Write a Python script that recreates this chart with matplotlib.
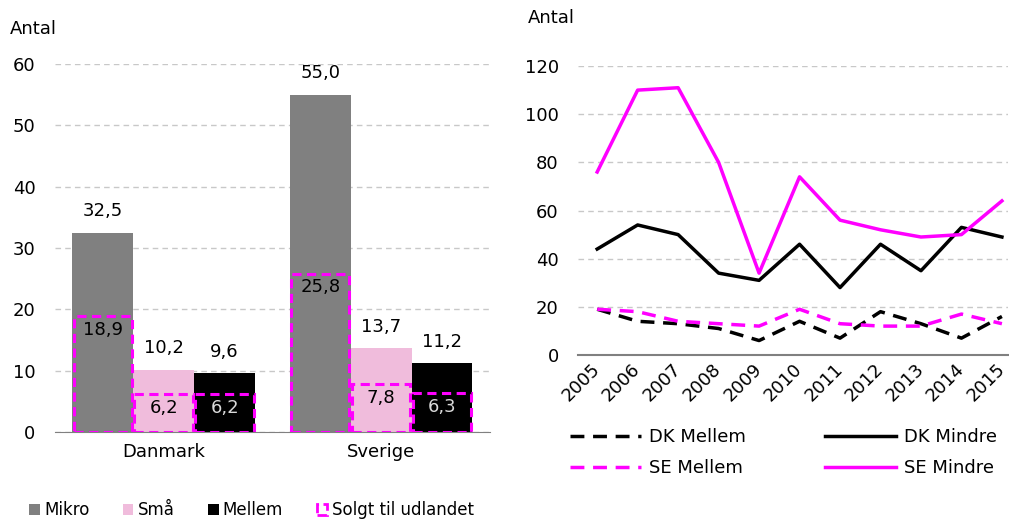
import matplotlib
matplotlib.use("Agg")
from matplotlib import pyplot as plt
from matplotlib.patches import Patch
from matplotlib.transforms import ScaledTranslation
import numpy as np

# left panel data
lande = ["Danmark", "Sverige"]
mikro = [32.5, 55.0]
smaa = [10.2, 13.7]
mellem = [9.6, 11.2]
solgt_mikro = [18.9, 25.8]
solgt_smaa = [6.2, 7.8]
solgt_mellem = [6.2, 6.3]

# right panel data
aar = [str(a) for a in range(2005, 2016)]
dk_mellem = [19, 14, 13, 11, 6, 14, 7, 18, 13, 7, 16]
dk_mindre = [44, 54, 50, 34, 31, 46, 28, 46, 35, 53, 49]
se_mellem = [19, 18, 14, 13, 12, 19, 13, 12, 12, 17, 13]
se_mindre = [76, 110, 111, 80, 34, 74, 56, 52, 49, 50, 64]

MAG = "#FF00FF"
GREY = "#808080"
PINK = "#F0BCDC"
fs = 13

def fmt(v):
    return ("%.1f" % v).replace(".", ",")

fig = plt.figure(figsize=(10.09, 5.2), dpi=100)

# ---------- left: bars ----------
ax1 = fig.add_axes([0.0545, 0.169, 0.431, 0.708])
x = np.arange(len(lande))
w = 0.28
series = [(mikro, solgt_mikro, GREY, "black"),
          (smaa, solgt_smaa, PINK, "black"),
          (mellem, solgt_mellem, "black", "#d9d9d9")]
for i, (vals, solgt, col, incol) in enumerate(series):
    xs = x + (i - 1) * w
    ax1.bar(xs, vals, w, color=col, zorder=2)
    ax1.bar(xs, solgt, w * 0.96, facecolor="none", edgecolor=MAG,
            linestyle=(0, (3, 1.8)), linewidth=2.2, zorder=3)
    for xi, v, s in zip(xs, vals, solgt):
        ax1.text(xi, v + 3.5, fmt(v), ha="center", va="center", fontsize=fs)
        ax1.text(xi, s - 2.2, fmt(s), ha="center", va="center", fontsize=fs, color=incol, zorder=4)

ax1.set_xlim(-0.5, 1.5)
ax1.set_ylim(0, 60)
ax1.set_yticks(range(0, 61, 10))
ax1.set_xticks(x)
ax1.set_xticklabels(lande, fontsize=fs)
ax1.tick_params(axis="y", labelsize=fs, length=0, pad=14)
ax1.tick_params(axis="x", length=0, pad=8)
ax1.yaxis.grid(True, linestyle=(0, (4, 3)), color="#c8c8c8", linewidth=1)
ax1.set_axisbelow(True)
for s in ["top", "right", "left"]:
    ax1.spines[s].set_visible(False)
ax1.spines["bottom"].set_color("#808080")
fig.text(0.010, 0.945, "Antal", fontsize=fs, va="center")

h1 = [Patch(facecolor=GREY), Patch(facecolor=PINK), Patch(facecolor="black"),
      Patch(facecolor="none", edgecolor=MAG, linestyle="--", linewidth=2)]
fig.legend(h1, ["Mikro", "Små", "Mellem", "Solgt til udlandet"], loc="center",
           bbox_to_anchor=(0.249, 0.019), ncol=4, frameon=False, fontsize=12,
           handlelength=0.65, handleheight=0.65, handletextpad=0.25, columnspacing=2.0)

# ---------- right: lines ----------
ax2 = fig.add_axes([0.573, 0.3173, 0.426, 0.5557])
xi = np.arange(len(aar))
ax2.plot(xi, dk_mellem, color="black", linestyle=(0, (4, 2.5)), linewidth=2.5, label="DK Mellem")
ax2.plot(xi, se_mellem, color=MAG, linestyle=(0, (4, 2.5)), linewidth=2.5, label="SE Mellem")
ax2.plot(xi, dk_mindre, color="black", linewidth=2.5, label="DK Mindre")
ax2.plot(xi, se_mindre, color=MAG, linewidth=2.5, label="SE Mindre")
ax2.set_xlim(-0.47, 10.15)
ax2.set_ylim(0, 120)
ax2.set_yticks(range(0, 121, 20))
ax2.set_xticks(xi)
ax2.set_xticklabels(aar, rotation=45, ha="right", va="center", rotation_mode="anchor", fontsize=fs)
off = ScaledTranslation(-3 / 72, 0, fig.dpi_scale_trans)
for lab in ax2.get_xticklabels():
    lab.set_transform(lab.get_transform() + off)
ax2.tick_params(axis="y", labelsize=fs, length=0, pad=14)
ax2.tick_params(axis="x", length=0, pad=8)
ax2.yaxis.grid(True, linestyle=(0, (4, 3)), color="#c8c8c8", linewidth=1)
ax2.set_axisbelow(True)
for s in ["top", "right", "left"]:
    ax2.spines[s].set_visible(False)
ax2.spines["bottom"].set_color("#808080")
ax2.spines["bottom"].set_linewidth(1.5)
fig.text(0.523, 0.965, "Antal", fontsize=fs, va="center")

h, l = ax2.get_legend_handles_labels()
fig.legend(h, l, loc="center", bbox_to_anchor=(0.7765, 0.1298), ncol=2, frameon=False,
           fontsize=fs, handlelength=3.9, handletextpad=0.45, columnspacing=4.4,
           labelspacing=0.7)

fig.savefig("out.png", dpi=100)
